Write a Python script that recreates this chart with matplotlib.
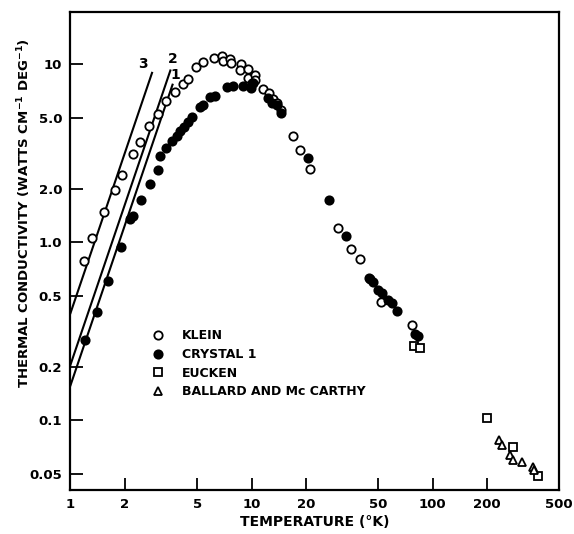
import numpy as np
import matplotlib
matplotlib.use("Agg")
import matplotlib.pyplot as plt
from matplotlib.lines import Line2D

# Klein (open circles)
klein_t = [1.19, 1.31, 1.54, 1.77, 1.92, 2.21, 2.43, 2.70, 3.04, 3.38, 3.76, 4.19, 4.44,
           4.96, 5.37, 6.18, 6.88, 6.97, 7.58, 7.65, 8.69, 8.6, 9.59, 9.59, 10.5, 10.5, 10.2,
           11.6, 12.5, 13.2, 13.8, 14.5, 17.0, 18.5, 20.9, 30.1, 35.2, 39.5, 45.2, 51.9, 76.7]
klein_k = [0.79, 1.06, 1.48, 1.96, 2.40, 3.14, 3.66, 4.48, 5.28, 6.25, 6.98, 7.74, 8.32,
           9.72, 10.3, 10.9, 11.2, 10.4, 10.8, 10.2, 10.06, 9.31, 9.43, 8.37, 8.73, 8.19, 7.9,
           7.29, 6.90, 6.38, 6.11, 5.51, 3.94, 3.29, 2.60, 1.20, 0.917, 0.811, 0.626, 0.459, 0.343]

# Crystal 1 (filled circles)
crystal_t = [1.20, 1.40, 1.61, 1.90, 2.12, 2.21, 2.45, 2.76, 3.04, 3.13, 3.38, 3.63, 3.88,
             4.04, 4.22, 4.44, 4.69, 5.22, 5.39, 5.87, 6.24, 7.33, 7.92, 9.0, 9.96, 10.1,
             12.3, 12.9, 13.8, 14.5, 20.6, 26.6, 33.2, 44.5, 46.6, 50.1, 52.3, 56.5, 59.4,
             63.4, 80.0, 82.8]
crystal_k = [0.283, 0.407, 0.607, 0.94, 1.36, 1.40, 1.74, 2.14, 2.56, 3.05, 3.39, 3.70, 3.97,
             4.21, 4.45, 4.72, 5.06, 5.76, 5.91, 6.52, 6.69, 7.45, 7.52, 7.52, 7.36, 7.85,
             6.47, 6.11, 5.90, 5.34, 2.98, 1.74, 1.09, 0.63, 0.602, 0.541, 0.518, 0.473, 0.454,
             0.412, 0.305, 0.297]

# Eucken (open squares)
eucken_t = [79.3, 85.5, 200.4, 278, 379]
eucken_k = [0.262, 0.254, 0.103, 0.0708, 0.0486]

# Ballard and Mc Carthy (open triangles)
ballard_t = [231.6, 241.7, 266, 278, 312, 356, 363]
ballard_k = [0.0771, 0.0723, 0.0636, 0.0596, 0.0583, 0.0547, 0.0524]

# T^3 lines 1, 2, 3
line_names = ["1", "2", "3"]
line_coef = [0.157, 0.205, 0.40]
line_t_end = [3.66, 3.56, 2.82]
line_label_t = [3.79, 3.68, 2.51]
line_label_k = [8.73, 10.7, 10.06]

x_ticks = [1, 2, 5, 10, 20, 50, 100, 200, 500]
x_ticklabels = ["1", "2", "5", "10", "20", "50", "100", "200", "500"]
y_ticks = [0.05, 0.1, 0.2, 0.5, 1.0, 2.0, 5.0, 10]
y_ticklabels = ["0.05", "0.1", "0.2", "0.5", "1.0", "2.0", "5.0", "10"]

plt.rcParams["font.family"] = "DejaVu Sans"
plt.rcParams["font.weight"] = "bold"

fig = plt.figure(figsize=(5.74, 5.34), dpi=100)
ax = fig.add_axes([0.1228, 0.0824, 0.8516, 0.8957])
ax.set_xscale("log")
ax.set_yscale("log")
ax.set_xlim(1, 500)
ax.set_ylim(0.0405, 19.8)

for coef, t_end in zip(line_coef, line_t_end):
    tt = np.array([1.0, t_end])
    ax.plot(tt, coef * tt ** 3, color="black", lw=1.5, zorder=2)
for name, tx, ky in zip(line_names, line_label_t, line_label_k):
    ax.text(tx, ky, name, fontsize=10, fontweight="bold", ha="center", va="center")

mk = dict(linestyle="none", markersize=6, markeredgewidth=1.3, markeredgecolor="black")
ax.plot(klein_t, klein_k, marker="o", markerfacecolor="white", zorder=3, **mk)
ax.plot(crystal_t, crystal_k, marker="o", markerfacecolor="black", zorder=4, **mk)
ax.plot(eucken_t, eucken_k, marker="s", markerfacecolor="white", zorder=3, **mk)
ax.plot(ballard_t, ballard_k, marker="^", markerfacecolor="white", zorder=3, **mk)

handles = [
    Line2D([], [], marker="o", markerfacecolor="white", **mk),
    Line2D([], [], marker="o", markerfacecolor="black", **mk),
    Line2D([], [], marker="s", markerfacecolor="white", **mk),
    Line2D([], [], marker="^", markerfacecolor="white", **mk),
]
labels = ["KLEIN", "CRYSTAL 1", "EUCKEN", "BALLARD AND Mc CARTHY"]
ax.legend(handles, labels, loc="upper left", bbox_to_anchor=(0.167, 0.336),
          frameon=False, handlelength=1.0, handletextpad=1.4,
          labelspacing=0.45, borderpad=0, borderaxespad=0,
          prop={"weight": "bold", "size": 9})

ax.set_xticks(x_ticks)
ax.set_xticklabels(x_ticklabels)
ax.set_yticks(y_ticks)
ax.set_yticklabels(y_ticklabels)
ax.minorticks_off()
ax.tick_params(direction="in", length=9, width=1.3, labelsize=9.5, pad=6,
               top=False, right=False)
for lab in ax.get_xticklabels() + ax.get_yticklabels():
    lab.set_fontweight("bold")
for sp in ax.spines.values():
    sp.set_linewidth(1.6)

ax.set_xlabel("TEMPERATURE (°K)", fontsize=10, fontweight="bold", labelpad=3)
ax.set_ylabel(r"THERMAL CONDUCTIVITY (WATTS CM$^{\mathbf{-1}}$ DEG$^{\mathbf{-1}}$)",
              fontsize=9.5, fontweight="bold")
ax.yaxis.set_label_coords(-0.077, 0.579)

fig.savefig("out.png", dpi=100)
